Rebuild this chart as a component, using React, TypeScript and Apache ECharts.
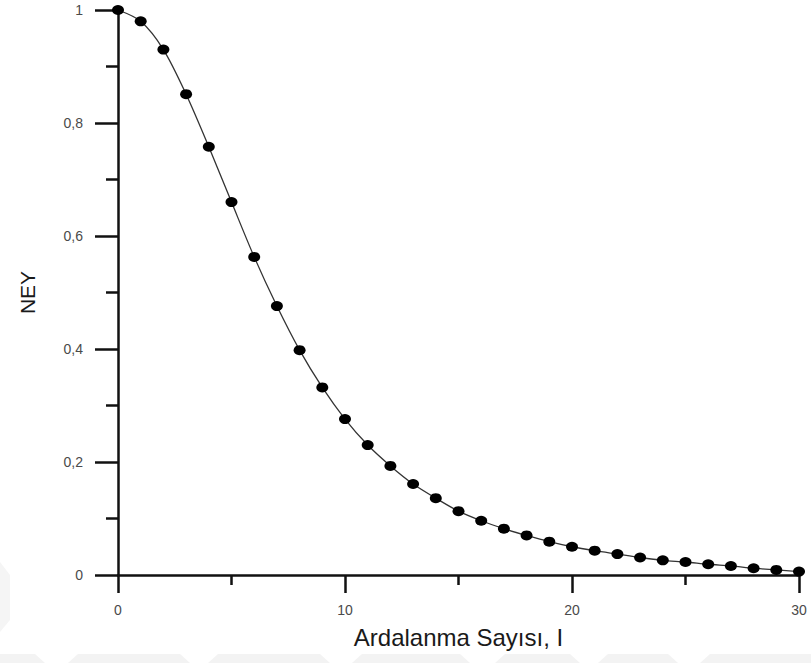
import React, { useEffect, useRef } from "react";
import * as echarts from "echarts";

// Ardalanma sayısı (I) ve karşılık gelen NEY değerleri
const ardalanma: number[] = [
  0, 1, 2, 3, 4, 5, 6, 7, 8, 9, 10, 11, 12, 13, 14, 15,
  16, 17, 18, 19, 20, 21, 22, 23, 24, 25, 26, 27, 28, 29, 30,
];
const ney: number[] = [
  1.0, 0.98, 0.93, 0.851, 0.758, 0.66, 0.563, 0.476, 0.398, 0.332, 0.276,
  0.23, 0.193, 0.161, 0.136, 0.113, 0.096, 0.082, 0.07, 0.059, 0.05, 0.043,
  0.037, 0.031, 0.026, 0.023, 0.019, 0.016, 0.012, 0.009, 0.006,
];

const xTitle = "Ardalanma Sayısı, I";
const yTitle = "NEY";

const fmt = (v: number) => String(Math.round(v * 10) / 10).replace(".", ",");

export default function App() {
  const ref = useRef<HTMLDivElement>(null);

  useEffect(() => {
    if (!ref.current) return;
    const chart = echarts.init(ref.current, undefined, { renderer: "svg" });
    const font = "'Liberation Sans', Arial, sans-serif";
    const stroke = { color: "#111", width: 2.5 };

    // faint band along the bottom edge
    const band: any[] = [];
    const pieces: [number, number][] = [
      [-20, 45],
      [68, 190],
      [208, 330],
      [352, 470],
      [495, 580],
      [598, 678],
      [700, 830],
    ];
    pieces.forEach(([a, b]) => {
      band.push({
        type: "polygon",
        silent: true,
        shape: {
          points: [
            [a, 663],
            [a + 10, 654],
            [b - 10, 654],
            [b, 663],
          ],
        },
        style: { fill: "#f3f3f3" },
      });
    });
    band.push({
      type: "polygon",
      silent: true,
      shape: { points: [[0, 562], [10, 575], [10, 620], [0, 632]] },
      style: { fill: "#f5f5f5" },
    });

    chart.setOption({
      animation: false,
      backgroundColor: "#fff",
      grid: { left: 118, right: 12, top: 10, bottom: 88, containLabel: false },
      graphic: band,
      xAxis: {
        type: "value",
        min: 0,
        max: 30,
        interval: 10,
        name: xTitle,
        nameLocation: "middle",
        nameGap: 50,
        nameTextStyle: { fontFamily: font, fontSize: 24, color: "#1a1a1a" },
        axisLine: { lineStyle: stroke },
        axisTick: { show: true, length: 18, lineStyle: stroke },
        minorTick: { show: true, splitNumber: 2, length: 10, lineStyle: stroke },
        axisLabel: { margin: 28, fontFamily: font, fontSize: 14, color: "#4a4a4a" },
        splitLine: { show: false },
        minorSplitLine: { show: false },
      },
      yAxis: {
        type: "value",
        min: 0,
        max: 1,
        interval: 0.2,
        name: yTitle,
        nameLocation: "middle",
        nameGap: 80,
        nameRotate: 90,
        nameTextStyle: { fontFamily: font, fontSize: 21, color: "#1a1a1a" },
        axisLine: { lineStyle: stroke },
        axisTick: { show: true, length: 23, lineStyle: stroke },
        minorTick: { show: true, splitNumber: 2, length: 12, lineStyle: stroke },
        axisLabel: {
          margin: 35,
          fontFamily: font,
          fontSize: 14,
          color: "#4a4a4a",
          formatter: (v: number) => fmt(v),
        },
        splitLine: { show: false },
        minorSplitLine: { show: false },
      },
      series: [
        {
          type: "line",
          data: ardalanma.map((x, i) => [x, ney[i]]),
          smooth: 0.3,
          symbol: "circle",
          symbolSize: [12, 10],
          itemStyle: { color: "#000" },
          lineStyle: { color: "#333", width: 1.3 },
          clip: false,
          z: 3,
        },
      ],
    });
    return () => chart.dispose();
  }, []);

  return (
    <div
      ref={ref}
      style={{ position: "fixed", left: 0, top: 0, width: 811, height: 663, background: "#fff" }}
    />
  );
}
